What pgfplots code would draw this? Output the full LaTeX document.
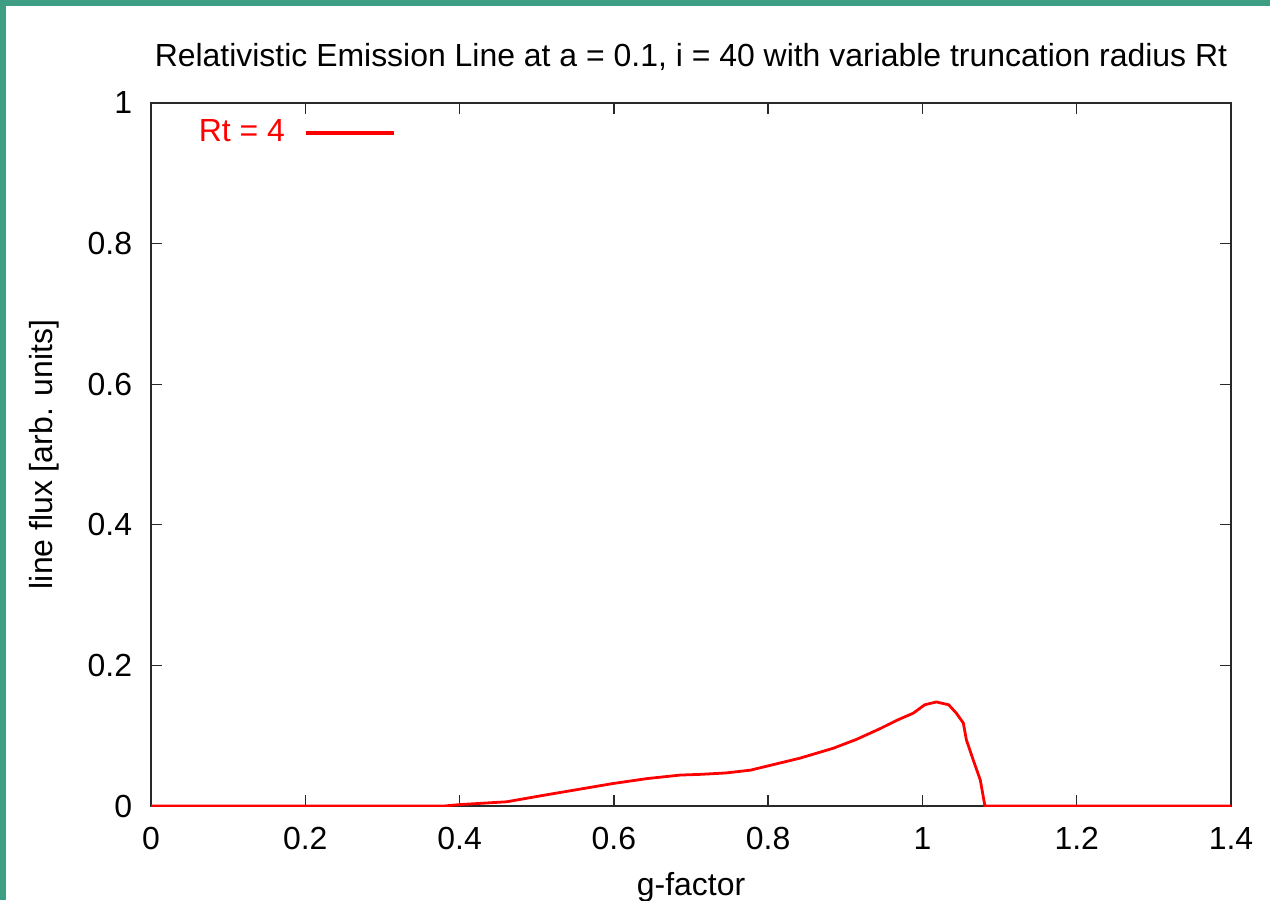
\documentclass[border=0pt]{standalone}
\usepackage{pgfplots}
\pgfplotsset{compat=1.18}
\usepackage{fontspec}
\setmainfont{Liberation Sans}
\definecolor{teal0}{RGB}{62,158,132}
\definecolor{frame}{RGB}{40,40,40}
\begin{document}
\begin{tikzpicture}
\fill[teal0] (0,0) rectangle (457.2pt,324pt);
\fill[white] (2.16pt,0) rectangle (457.2pt,321.84pt);
\path[use as bounding box] (0,0) rectangle (457.2pt,324pt);
\begin{axis}[
  scale only axis,
  width=388.8pt, height=253.08pt,
  at={(54.36pt,33.84pt)}, anchor=south west,
  xmin=0, xmax=1.4, ymin=0, ymax=1,
  xtick={0,0.2,...,1.4}, ytick={0,0.2,...,1},
  xticklabels={0,0.2,0.4,0.6,0.8,1,1.2,1.4},
  yticklabels={0,0.2,0.4,0.6,0.8,1},
  tick align=inside, major tick length=4pt,
  tick style={frame, line width=0.5pt},
  axis line style={frame, line width=0.5pt},
  font=\fontsize{11.5}{13}\selectfont,
  /pgf/number format/assume math mode=true,
  yticklabel style={xshift=-3.3pt},
  xticklabel style={yshift=-4.2pt},
  title={Relativistic Emission Line at a = 0.1, i = 40 with variable truncation radius Rt},
  title style={at={(axis description cs:0.5,1.0652)}, anchor=center, yshift=-6pt},
  xlabel={g-factor},
  xlabel style={at={(axis description cs:0.5,-0.1152)}, anchor=center},
  ylabel={line flux [arb. units]},
  ylabel style={at={(axis description cs:-0.0991,0.5)}, anchor=center},
  legend plot pos=right,
  legend style={draw=none, fill=none, at={(axis description cs:0,1)}, anchor=north west, xshift=12pt, yshift=-1.9pt, font=\fontsize{11.5}{13}\selectfont},
  legend image code/.code={\path (0pt,0pt); \draw[#1, line width=1.1pt] (5pt,0pt) -- (36.7pt,0pt);},
]
\addplot[red, line width=1pt] coordinates {
(0,0) (0.38,0) (0.40,0.002) (0.461,0.006) (0.513,0.016) (0.556,0.024)
(0.599,0.032) (0.643,0.039) (0.686,0.044) (0.712,0.045) (0.745,0.047) (0.777,0.051)
(0.841,0.068) (0.884,0.082) (0.915,0.095) (0.945,0.110) (0.967,0.122) (0.988,0.132)
(1.003,0.144) (1.018,0.148) (1.034,0.144) (1.044,0.132) (1.053,0.118) (1.057,0.094)
(1.066,0.065) (1.075,0.037) (1.081,0) (1.4,0)
};
\addlegendentry{\textcolor{red}{Rt = 4}}
\end{axis}
\end{tikzpicture}
\end{document}
